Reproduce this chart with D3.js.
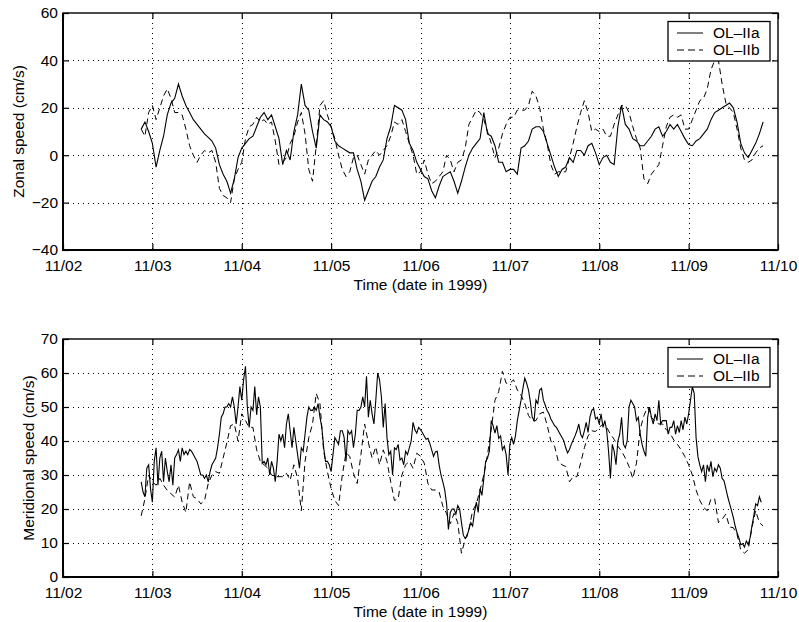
<!DOCTYPE html>
<html>
<head>
<meta charset="utf-8">
<style>
  body {
  margin: 0;
  background: #fff;
  }
  svg text {
  font-family: 'Liberation Sans', Arial, Helvetica, sans-serif;
  font-size: 15.5px;
  fill: #000;
  }
</style>
</head>
<body>
<svg width="799" height="622"></svg>
<script src="https://d3js.org/d3.v7.min.js"></script>
<script>
  // tick values and labels
  var zonalTicks = [-40, -20, 0, 20, 40, 60];
  var meridTicks = [0, 10, 20, 30, 40, 50, 60, 70];
  var dayTicks = d3.utcDays(Date.UTC(1999, 10, 2), Date.UTC(1999, 10, 11));
  var seriesNames = ["OL\u2013IIa", "OL\u2013IIb"];

  // samples start 11/02 21:00, hourly unless noted
  var startTime = Date.UTC(1999, 10, 2, 21);
  var hour = 3600 * 1000;

  // zonal speed (cm/s), OL-IIa, hourly
  var zonalA = [11, 14, 10, 5, -5, 2, 8, 17, 22, 24,
    30, 25, 21, 18, 15, 13, 11, 9, 7.5, 6,
    3, -4, -8, -11, -16, -10, -1, 3, 5, 7,
    8, 12, 16, 18, 15, 17, 12, 7, -4, 2,
    -2, 10, 17, 30, 21, 19, 10, 3, 17, 15,
    14, 12, 6, 4, 3, 2, 1, 1, -6, -11,
    -19, -15, -11, -9, -5, -2, 7, 12, 21, 20,
    19, 15, 5, 2, -3, -6, -9, -10, -15, -18,
    -13, -9, -8, -7, -11, -16, -11, -5, 0, 3,
    5, 7, 18, 9, 8, 4, -3, -3, -7, -6,
    -6, -8, 3, 4, 6, 11, 12, 12, 10, 5,
    0, -5, -9, -6, -5, -1, -3, 2, 2, 0,
    4, 5, 1, -4, -1, 0, -3, -4, 12, 21,
    13, 11, 7, 6, 4, 4, 6, 8, 11, 12,
    8, 10, 13, 11, 13, 10, 7, 4.5, 4, 6,
    7, 9, 11, 15, 18, 19, 20, 21, 22, 20,
    14, 5, 1, -1, 2, 5, 9, 14];

  // zonal speed (cm/s), OL-IIb, hourly
  var zonalB = [11, 8, 18, 21, 15, 20, 25, 28, 24, 18,
    18, 17, 11, 4, 0, -3, 0, 2, 1, 2,
    -3, -14, -17, -18, -20, -10, -6, -3, 7, 12,
    13, 16, 14, 15, 13, 14, 6, -4, -3, -1,
    5, 8, 14, 18, 9, -6, -11, 4, 21, 23,
    17, 12, 7, 0, -6, -9, -7, -1, 0, -4,
    -8, -2, 0, 2, 0, 2, 4, 8, 14, 13,
    15, 10, 5, 0, -8, -7, -2, -8, -12, -11,
    -9, -7, 0, -2, -7, -3, -2, 3, 13, 16,
    19, 18, 15, 10, 5, -1, 3, 9, 13, 16,
    16, 19, 19, 19, 21, 27, 25, 20, 11, 5,
    -4, -8, -7, -7, -7, -1, 5, 12, 18, 23,
    18, 10, 11, 10, 11, 8, 8, 13, 17, 21,
    21, 18, 12, 7, 3, -10, -12, -8, -6, -4,
    4, 12, 16, 17, 16, 17, 11, 11, 15, 19,
    23, 24, 28, 36, 40, 40, 30, 22, 20, 18,
    11, 3, -2, -3, -2, 1, 3, 4];

  // meridional speed (cm/s), OL-IIa, every 30 min
  var meridA = [28, 25, 23.6, 32, 33, 26, 22, 34, 38, 27,
    35, 37, 28, 35, 31, 28, 33, 27, 35, 36,
    37.4, 34, 38, 36, 37, 36, 37.5, 37, 36, 35,
    34, 32, 30, 30, 29, 30, 28, 31, 33, 34,
    35, 38, 42, 47, 48, 50, 50, 51, 50, 53,
    50, 45, 50, 56, 52, 58, 62, 50, 44, 50,
    49, 56, 47.7, 53, 50, 33.4, 34, 33, 35, 30,
    34, 32, 28, 34, 42, 40, 42, 38, 45, 48,
    43, 38, 44, 40, 36, 32, 38, 37, 42, 47,
    50, 49, 49, 50, 49, 51, 47, 44, 38, 34,
    34, 33, 31, 36, 41, 40, 39, 43, 43, 41,
    34, 43, 42, 43, 38, 42, 49, 49, 50, 53,
    50, 59, 47, 52, 48, 45, 52, 60, 58, 53,
    44, 51, 41, 36, 37, 30, 38, 37.5, 39, 34.4,
    35, 33, 37, 36, 38, 40, 45.5, 43.3, 42.3, 44,
    43.3, 42.5, 41.5, 40.5, 40.8, 39.3, 37.4, 35.5, 36.8, 37,
    33, 30, 28, 25.6, 21.6, 14, 19, 20, 20, 18.5,
    21, 20, 16, 12.3, 11.3, 12, 14, 16, 15, 19,
    22, 19, 26, 24, 29, 34, 35, 37, 46, 44.5,
    42.3, 44.5, 40.8, 41.5, 37.4, 38.5, 36, 30, 39, 41,
    39, 41.5, 46, 49, 52, 55.5, 58.5, 57, 55, 51.5,
    47, 46, 52, 51, 55, 55.5, 52, 50.5, 49, 48,
    46.5, 45.5, 44.5, 44, 43, 42, 41, 40, 38, 36.5,
    37.5, 39, 40.3, 41.5, 43, 45, 42, 41, 43, 45.5,
    42.5, 47, 49, 49.5, 46.5, 47, 45, 48, 44, 46,
    43, 37, 29, 39, 37, 33, 40, 42, 47, 39,
    38, 40, 50, 52, 51, 50, 46, 47, 42, 39,
    37, 35.5, 47, 50, 47, 45, 48, 46, 52, 45,
    46, 46, 46, 42, 44, 44, 46, 42, 44.5, 42.5,
    46, 43.3, 47, 45, 48, 52, 56, 54, 41, 35.4,
    33, 31, 33, 28, 33, 31, 34, 29.5, 32, 31,
    33, 32, 29, 28.3, 26, 23.6, 21.6, 19.6, 17.5, 15,
    13, 11.5, 9.5, 9.8, 8.8, 10.6, 9.5, 11.5, 15, 18,
    21.5, 21, 23.6, 22];

  // meridional speed (cm/s), OL-IIb, hourly
  var meridB = [18, 23, 30, 28, 27, 29, 27, 25.5, 24.5, 23.5,
    27, 22, 19, 28, 23.6, 23, 21.5, 22.5, 27.5, 30,
    31, 30.5, 35, 39.5, 44.5, 45, 40, 48, 46, 44,
    44, 37.4, 34, 33, 32, 30, 29.5, 29.5, 29.5, 30.5,
    28.5, 33, 29, 19.5, 34, 41, 45, 54, 51, 37,
    31, 26, 22.5, 21, 30, 36.5, 35.5, 30.5, 27.5, 36,
    45, 39.5, 35, 38.3, 33, 37.4, 34, 28, 22.5, 23,
    30, 33, 34, 32, 36.4, 35.5, 33.5, 27.5, 25.6, 25.6,
    25, 20.8, 18.7, 15.7, 18.7, 16, 7, 11, 14, 19.5,
    21.5, 25.6, 30, 36, 43.5, 52, 54.5, 60.5, 57, 57,
    58, 55, 53.5, 51, 47.5, 46, 46, 48, 48.5, 44.7,
    40, 38.5, 34, 33, 32.5, 28, 29.5, 29.5, 33.5, 38,
    41.5, 43, 42.8, 44, 45, 44, 42, 40.5, 38.5, 37,
    35, 32.5, 29, 33.5, 43.5, 47.5, 50, 47, 45.8, 45,
    45, 43.3, 42.3, 40.3, 39, 37.4, 35.4, 33, 30, 25.6,
    22.5, 20.5, 19.5, 23, 23, 16, 17, 18.5, 14.7, 14.5,
    12.5, 8, 7, 8, 14.5, 19.5, 16, 15];

  function toPoints(vals, step) {
    return vals.map(function(v, i) { return {t: new Date(startTime + i * step), v: v}; });
  }

  var svg = d3.select("svg"),
      left = 63, right = 778;

  var x = d3.scaleUtc()
    .domain([Date.UTC(1999, 10, 2), Date.UTC(1999, 10, 10)])
    .range([left, right]);

  var panels = [
    {top: 13, bottom: 250, domain: [-40, 60], ticks: zonalTicks,
     label: "Zonal speed (cm/s)", labelX: 19,
     a: toPoints(zonalA, hour), b: toPoints(zonalB, hour)},
    {top: 339, bottom: 577, domain: [0, 70], ticks: meridTicks,
     label: "Meridional speed (cm/s)", labelX: 29,
     a: toPoints(meridA, hour / 2), b: toPoints(meridB, hour)}
  ];

  panels.forEach(function(p, pi) {
    var y = d3.scaleLinear().domain(p.domain).range([p.bottom, p.top]);
    var g = svg.append("g");

    // dotted grid
    var grid = g.append("g")
      .attr("stroke", "#000")
      .attr("stroke-width", 1)
      .attr("stroke-dasharray", "1,4")
      .attr("shape-rendering", "crispEdges");
    grid.selectAll(".gy").data(p.ticks.slice(1, -1)).enter().append("line")
      .attr("x1", left).attr("x2", right)
      .attr("y1", function(d) { return Math.round(y(d)) + 0.5; })
      .attr("y2", function(d) { return Math.round(y(d)) + 0.5; });
    grid.selectAll(".gx").data(dayTicks.slice(1, -1)).enter().append("line")
      .attr("y1", p.top).attr("y2", p.bottom)
      .attr("x1", function(d) { return Math.round(x(d)) + 0.5; })
      .attr("x2", function(d) { return Math.round(x(d)) + 0.5; });

    // data lines
    g.append("clipPath").attr("id", "clip" + pi)
      .append("rect")
      .attr("x", left).attr("y", p.top)
      .attr("width", right - left).attr("height", p.bottom - p.top);

    var line = d3.line()
      .x(function(d) { return x(d.t); })
      .y(function(d) { return y(d.v); });

    var lines = g.append("g").attr("clip-path", "url(#clip" + pi + ")")
      .attr("fill", "none").attr("stroke", "#000");
    lines.append("path").datum(p.b)
      .attr("d", line)
      .attr("stroke-width", 1)
      .attr("stroke-dasharray", "6,4");
    lines.append("path").datum(p.a)
      .attr("d", line)
      .attr("stroke-width", 1.1);

    // axes, ticks pointing inward
    var xb = g.append("g")
      .attr("transform", "translate(0," + p.bottom + ")")
      .call(d3.axisBottom(x).tickValues(dayTicks).tickFormat(d3.utcFormat("%m/%d"))
        .tickSize(-6).tickPadding(10));
    var xt = g.append("g")
      .attr("transform", "translate(0," + p.top + ")")
      .call(d3.axisTop(x).tickValues(dayTicks).tickFormat("").tickSize(-6));
    var yl = g.append("g")
      .attr("transform", "translate(" + left + ",0)")
      .call(d3.axisLeft(y).tickValues(p.ticks).tickSize(-6).tickPadding(5));
    var yr = g.append("g")
      .attr("transform", "translate(" + right + ",0)")
      .call(d3.axisRight(y).tickValues(p.ticks).tickFormat("").tickSize(-6));

    [xb, xt, yl, yr].forEach(function(a) {
      a.select(".domain").remove();
      a.attr("color", "#000");
      a.selectAll("line").attr("stroke-width", 1.2);
    });

    // box
    g.append("rect")
      .attr("x", left).attr("y", p.top)
      .attr("width", right - left).attr("height", p.bottom - p.top)
      .attr("fill", "none").attr("stroke", "#000").attr("stroke-width", 1.4);
    g.append("path")
      .attr("d", "M" + left + "," + p.top + "V" + p.bottom + "H" + right)
      .attr("fill", "none").attr("stroke", "#000").attr("stroke-width", 2);

    // labels
    g.append("text")
      .attr("transform", "translate(" + p.labelX + "," + ((p.top + p.bottom) / 2) + ") rotate(-90)")
      .attr("text-anchor", "middle")
      .attr("dy", "0.35em")
      .text(p.label);

    g.append("text")
      .attr("x", (left + right) / 2)
      .attr("y", p.bottom + 40)
      .attr("text-anchor", "middle")
      .text("Time (date in 1999)");

    // legend
    var legend = g.append("g")
      .attr("transform", "translate(668," + (p.top + 8.5) + ")");
    legend.append("rect")
      .attr("width", 102).attr("height", 39.5)
      .attr("fill", "#fff").attr("stroke", "#000").attr("stroke-width", 1.3);
    var rows = legend.selectAll(".row").data(seriesNames).enter().append("g")
      .attr("transform", function(d, i) { return "translate(0," + (11.5 + i * 17) + ")"; });
    rows.append("line")
      .attr("x1", 9).attr("x2", 35)
      .attr("stroke", "#000")
      .attr("stroke-width", 1)
      .attr("stroke-dasharray", function(d, i) { return i ? "7,4" : null; });
    rows.append("text")
      .attr("x", 45)
      .attr("dy", "0.35em")
      .text(function(d) { return d; });
  });
</script>
</body>
</html>
